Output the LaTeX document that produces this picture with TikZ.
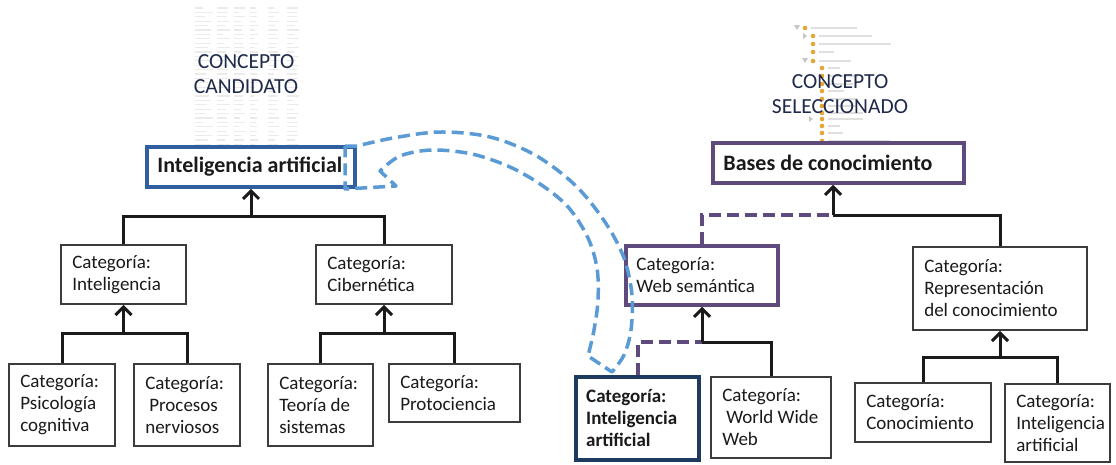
\documentclass[tikz,border=0pt]{standalone}
\usepackage{fontspec}
\setmainfont{Carlito}
\usetikzlibrary{arrows.meta,calc}

\definecolor{tblue}{HTML}{2F5F9E}
\definecolor{iablue}{HTML}{1F3A5F}
\definecolor{tpurple}{HTML}{5F4A7D}
\definecolor{dblue}{HTML}{5B9BD5}
\definecolor{ink}{HTML}{1A1A1A}
\definecolor{navy}{HTML}{1F2A4A}
\definecolor{leaf}{HTML}{E5A636}

\tikzset{
  catbox/.style={draw=ink!85, line width=1.8pt, rectangle, inner sep=0pt, fill=white},
  titleL/.style={draw=tblue, line width=3.5pt, rectangle, inner sep=0pt, fill=white},
  titleR/.style={draw=tpurple, line width=3.5pt, rectangle, inner sep=0pt, fill=white},
  purplebox/.style={draw=tpurple, line width=3.5pt, rectangle, inner sep=0pt, fill=white},
  iabox/.style={draw=iablue, line width=4pt, rectangle, inner sep=0pt, fill=white},
  cattext/.style={font=\fontsize{19}{22}\selectfont},
  cattextb/.style={font=\fontsize{19}{22}\selectfont\bfseries},
  titletext/.style={font=\fontsize{22}{26}\selectfont\bfseries},
  conn/.style={draw=ink, line width=3pt, line join=miter},
  upconn/.style={draw=ink, line width=3pt, -{Straight Barb[length=8pt,width=16pt]}},
  pdash/.style={draw=tpurple, line width=4pt, dash pattern=on 12pt off 6pt, line join=miter},
  bluearrow/.style={draw=dblue, line width=3.5pt, dash pattern=on 12pt off 6pt, line join=round},
  concept/.style={font=\fontsize{21.5}{24.5}\selectfont, text=navy, align=center, inner sep=0pt},
  tablebar/.style={draw=gray!16, line width=1.3pt},
  treebar/.style={draw=gray!25, line width=1.6pt},
}

% box from its pixel corners: name, x1, y1, x2, y2, style
\newcommand{\cbox}[6]{%
  \pgfmathsetlengthmacro{\bw}{(#4-#2)*1pt}%
  \pgfmathsetlengthmacro{\bh}{(#5-#3)*1pt}%
  \node[#6, minimum width=\bw, minimum height=\bh] (#1) at ({(#2+#4)/2},{(#3+#5)/2}) {};}
% left-aligned text inside a box: box name, style, text
\newcommand{\ctext}[3]{%
  \node[#2, anchor=west, align=left, text=ink, inner sep=0pt] (#1-t) at ([xshift=12pt]#1.west) {#3};}

\begin{document}
\begin{tikzpicture}[x=1pt, y=-1pt]
\useasboundingbox (0,0) rectangle (1116,464);
\fill[white] (0,0) rectangle (1116,464);

% faint spreadsheet behind the candidate concept
\foreach \c/\cx/\cw in {0/195/18,1/217/13,2/234/11,3/250/8,4/268/11,5/287/12} {
  \foreach \r in {0,...,31} {
    \pgfmathsetmacro{\yy}{8+\r*4.4}
    \pgfmathsetmacro{\ll}{\cw*(0.45+0.55*abs(sin(\r*83+\c*47)))}
    \draw[tablebar] (\cx,\yy) -- ++(\ll,0);
  }
}

% faint ontology tree behind the selected concept
\foreach \y/\lx/\tl in {28/805/46, 36/813/53, 44/813/72, 52/813/15, 61/813/32,
    68/822/12, 76/822/30, 84/822/25, 91/822/16, 99/822/30, 106/822/28,
    113/822/35, 119/822/35, 126/822/12, 133/822/15, 141/822/62, 148/822/44} {
  \fill[leaf] (\lx,\y) circle (2.3pt);
  \draw[treebar] (\lx+6,\y) -- ++(\tl,0);
}
\fill[gray!45] (794,25) -- (800,25) -- (797,30) -- cycle;
\fill[gray!45] (803,33) -- (807,36) -- (803,39) -- cycle;
\fill[gray!45] (802,58) -- (808,58) -- (805,63) -- cycle;
\fill[gray!45] (809,116) -- (813,119) -- (809,122) -- cycle;

\node[concept] (candL) at (246,74) {CONCEPTO\\CANDIDATO};
\node[concept] (candR) at (840,94) {CONCEPTO\\SELECCIONADO};

% left hierarchy
\cbox{ia}{147}{147}{355}{187}{titleL}
\cbox{intel}{61}{245}{186}{304}{catbox}
\cbox{ciber}{316}{245}{452}{304}{catbox}
\cbox{psico}{9}{364}{115}{446}{catbox}
\cbox{proc}{134}{364}{240}{446}{catbox}
\cbox{teo}{268}{364}{373}{446}{catbox}
\cbox{proto}{389}{364}{520}{422}{catbox}

\ctext{ia}{titletext}{Inteligencia artificial}
\ctext{intel}{cattext}{Categoría:\\Inteligencia}
\ctext{ciber}{cattext}{Categoría:\\Cibernética}
\ctext{psico}{cattext}{Categoría:\\Psicología\\cognitiva}
\ctext{proc}{cattext}{Categoría:\\\hspace*{4pt}Procesos\\nerviosos}
\ctext{teo}{cattext}{Categoría:\\Teoría de\\sistemas}
\ctext{proto}{cattext}{Categoría:\\Protociencia}

% right hierarchy
\cbox{bases}{713}{143}{964}{183}{titleR}
\cbox{web}{626}{246}{778}{305}{purplebox}
\cbox{rep}{913}{247}{1087}{330}{catbox}
\cbox{iab}{576}{377}{699}{460}{iabox}
\cbox{www}{711}{377}{831}{458}{catbox}
\cbox{cono}{855}{383}{991}{442}{catbox}
\cbox{iar}{1005}{384}{1110}{462}{catbox}

\ctext{bases}{titletext}{Bases de conocimiento}
\ctext{web}{cattext}{Categoría:\\Web semántica}
\ctext{rep}{cattext}{Categoría:\\Representación\\del conocimiento}
\ctext{iab}{cattextb}{Categoría:\\Inteligencia\\artificial}
\ctext{www}{cattext}{Categoría:\\\hspace*{4pt}World Wide\\Web}
\ctext{cono}{cattext}{Categoría:\\Conocimiento}
\ctext{iar}{cattext}{Categoría:\\Inteligencia\\artificial}

% left connectors
\coordinate (jL1) at (251,216);
\draw[conn] (intel.north) |- (jL1) -| (ciber.north);
\draw[upconn] (jL1) -- (ia.south);
\coordinate (jL2) at (intel.south |- 0,333);
\draw[conn] (psico.north) |- (jL2) -| (proc.north);
\draw[upconn] (jL2) -- (intel.south);
\coordinate (jL3) at (ciber.south |- 0,333);
\draw[conn] (teo.north) |- (jL3) -| (proto.north);
\draw[upconn] (jL3) -- (ciber.south);

% right connectors
\coordinate (jR1) at (833,215);
\draw[conn] (jR1) -| (rep.north);
\draw[pdash] (web.north) |- (jR1);
\draw[upconn] (jR1) -- (jR1 |- bases.south);
\coordinate (jR2) at (web.south |- 0,342);
\draw[conn] (jR2) -| (www.north);
\draw[pdash] (iab.north) |- (jR2);
\draw[upconn] (jR2) -- (web.south);
\coordinate (jR3) at (rep.south |- 0,357);
\draw[conn] (cono.north) |- (jR3) -| (iar.north);
\draw[upconn] (jR3) -- (rep.south);

% curved block arrow from the selected category back to the candidate
\draw[bluearrow] (345,146) -- (357,146)
  -- plot[smooth, tension=0.55] coordinates {(357,146) (393,138) (440,132) (490,137)
       (535,155) (575,185) (605,222) (624,258) (632,295) (631,330) (624,355) (612,372)}
  -- plot[smooth, tension=0.55] coordinates {(588,356) (594,330) (598,300) (597,268)
       (588,238) (569,208) (543,186) (510,167) (472,154) (432,150) (400,156) (380,171)}
  -- (396,186) -- (345,189) -- cycle;
\end{tikzpicture}
\end{document}
